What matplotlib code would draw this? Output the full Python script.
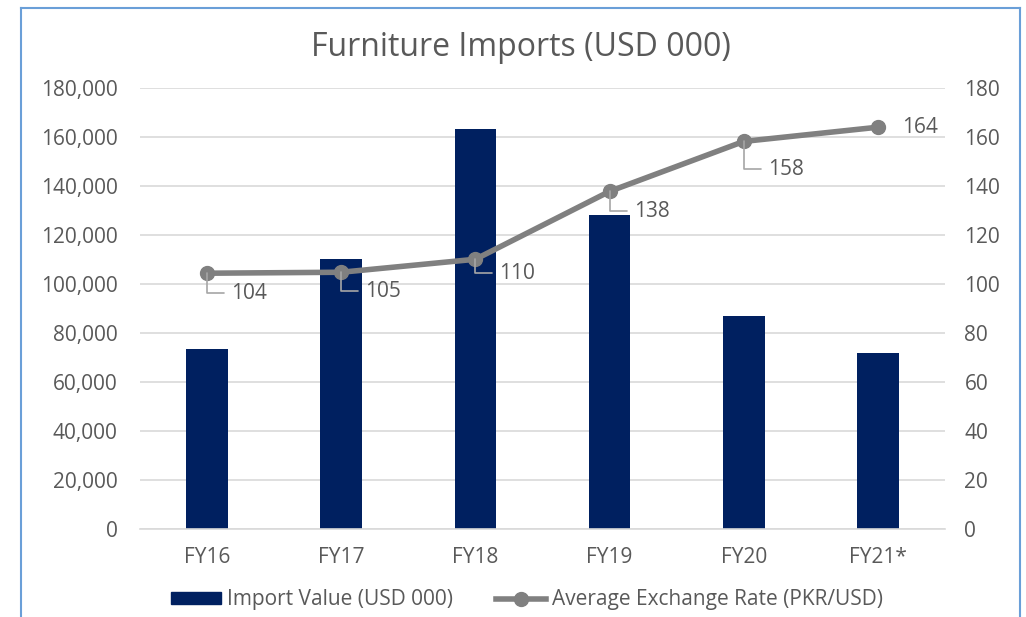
import matplotlib
matplotlib.use("Agg")
import matplotlib.pyplot as plt
from matplotlib.lines import Line2D
from matplotlib.patches import Patch
from matplotlib.ticker import FuncFormatter, MultipleLocator

categories = ["FY16", "FY17", "FY18", "FY19", "FY20", "FY21*"]
import_values = [73500, 110200, 163300, 128200, 87000, 71800]
exchange_rate = [104.4, 104.8, 110.1, 137.8, 158.2, 164.0]
rate_labels = ["104", "105", "110", "138", "158", "164"]

plt.rcParams['font.family'] = ['Open Sans', 'DejaVu Sans']
TXT = '#595959'
NAVY = '#002060'
GRAY = '#808080'
FS = 15

fig = plt.figure(figsize=(10.26, 6.17), dpi=100)
ax = fig.add_axes([140/1026, 1-529/617, (945-140)/1026, (529-88)/617])
x = list(range(len(categories)))
ax.bar(x, import_values, width=0.31, color=NAVY, zorder=2)
ax.set_xlim(-0.5, len(categories)-0.5)
ax.set_ylim(0, 180000)
ax.yaxis.set_major_locator(MultipleLocator(20000))
ax.yaxis.set_major_formatter(FuncFormatter(lambda v, p: f"{int(v):,}"))
ax.grid(axis='y', color='#d9d9d9', linewidth=1.2, zorder=0)
ax.set_axisbelow(True)
for s in ['top', 'left', 'right']:
    ax.spines[s].set_visible(False)
ax.spines['bottom'].set_color('#d9d9d9')
ax.spines['bottom'].set_linewidth(1.2)
ax.set_xticks(x)
ax.set_xticklabels(categories)
ax.tick_params(axis='both', length=0, labelsize=FS, labelcolor=TXT)
ax.tick_params(axis='x', pad=13)
ax.tick_params(axis='y', pad=16)

ax2 = ax.twinx()
ax2.set_ylim(0, 180)
ax2.yaxis.set_major_locator(MultipleLocator(20))
for s in ['top', 'left', 'right', 'bottom']:
    ax2.spines[s].set_visible(False)
ax2.tick_params(axis='y', length=0, labelsize=FS, labelcolor=TXT, pad=14)
ax2.plot(x, exchange_rate, color=GRAY, linewidth=4, marker='o', markersize=10,
         solid_capstyle='round', zorder=3)

offsets = [(24, -20), (24, -19), (24, -14), (24, -20), (24, -28), (24, 0)]
for xi, yi, lab, off in zip(x, exchange_rate, rate_labels, offsets):
    if off[1] == 0:
        ax2.annotate(lab, (xi, yi), xytext=off, textcoords='offset pixels',
                     ha='left', va='center', fontsize=FS, color=TXT)
    else:
        ax2.annotate(lab, (xi, yi), xytext=off, textcoords='offset pixels',
                     ha='left', va='center', fontsize=FS, color=TXT,
                     arrowprops=dict(arrowstyle='-', color='#a6a6a6', lw=1.2,
                                     connectionstyle='angle,angleA=0,angleB=90,rad=0',
                                     shrinkA=3, shrinkB=0))

fig.text(521/1026, 1-48/617, "Furniture Imports (USD 000)", ha='center', va='center',
         fontsize=23, color=TXT)

handles = [Patch(facecolor=NAVY, edgecolor=NAVY),
           Line2D([0], [0], color=GRAY, linewidth=4, marker='o', markersize=10)]
fig.legend(handles, ["Import Value (USD 000)", "Average Exchange Rate (PKR/USD)"],
           loc='center', bbox_to_anchor=(527/1026, 1-600/617), ncol=2, frameon=False,
           fontsize=FS, labelcolor=TXT, handlelength=2.4, handletextpad=0.25,
           columnspacing=2.1, handleheight=0.55)

border = '#6a9fd8'
fig.add_artist(Line2D([21/1026, 21/1026], [0, 1-8/617], transform=fig.transFigure, color=border, lw=1.5))
fig.add_artist(Line2D([21/1026, 1020/1026], [1-8/617, 1-8/617], transform=fig.transFigure, color=border, lw=1.5))
fig.add_artist(Line2D([1020/1026, 1020/1026], [0, 1-8/617], transform=fig.transFigure, color=border, lw=1.5))

fig.savefig("out.png", dpi=100)
